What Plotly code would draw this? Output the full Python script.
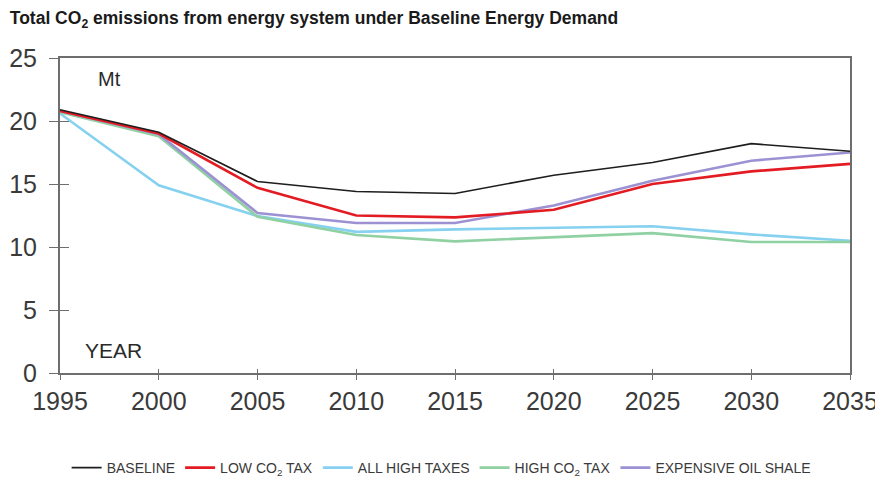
import plotly.graph_objects as go

years = [1995, 2000, 2005, 2010, 2015, 2020, 2025, 2030, 2035]
baseline = [20.9, 19.1, 15.2, 14.4, 14.25, 15.7, 16.7, 18.2, 17.6]
low_co2_tax = [20.8, 19.0, 14.7, 12.5, 12.35, 12.95, 15.0, 16.0, 16.6]
all_high_taxes = [20.6, 14.9, 12.45, 11.2, 11.4, 11.55, 11.65, 11.0, 10.5]
high_co2_tax = [20.7, 18.8, 12.4, 10.95, 10.45, 10.8, 11.1, 10.4, 10.4]
expensive_oil_shale = [20.8, 18.95, 12.7, 11.9, 11.9, 13.3, 15.25, 16.85, 17.5]

y_ticks = [0, 5, 10, 15, 20, 25]

series = [
    # name, values, colour, width, legend rank (draw order is list order)
    ("ALL HIGH TAXES", all_high_taxes, "#86d1ef", 2.6, 3),
    ("HIGH CO<sub>2</sub> TAX", high_co2_tax, "#8fd1a3", 2.6, 4),
    ("EXPENSIVE OIL SHALE", expensive_oil_shale, "#9c92d3", 2.6, 5),
    ("LOW CO<sub>2</sub> TAX", low_co2_tax, "#e31b23", 2.6, 2),
    ("BASELINE", baseline, "#1e1e1e", 1.6, 1),
]

fig = go.Figure()
for name, vals, col, w, rank in series:
    fig.add_trace(go.Scatter(
        x=years, y=vals, mode="lines", name=name,
        line=dict(color=col, width=w), legendrank=rank,
    ))

# dummy trace for the overlay axes carrying inside tick marks
fig.add_trace(go.Scatter(x=[years[0]], y=[0], xaxis="x2", yaxis="y2",
                         mode="markers", marker=dict(opacity=0),
                         showlegend=False, hoverinfo="skip"))

tick_font = dict(family="Liberation Sans, Arial, sans-serif", size=25, color="#3a3a3a")
axis_line = "#6e6e6e"

# page body has an 8px default margin, so the figure is sized to fit the window
fig.update_layout(
    width=875, height=471,
    paper_bgcolor="white", plot_bgcolor="white",
    margin=dict(l=52, r=33, t=50, b=106, autoexpand=False),
    title=dict(
        text="Total CO<sub>2</sub> emissions from energy system under Baseline Energy Demand",
        x=0.002, xanchor="left", y=0.992, yanchor="top",
        font=dict(family="Liberation Sans, Arial, sans-serif", size=17.5, color="#1a1a1a", weight="bold"),
    ),
    xaxis=dict(
        range=[1995, 2035], tickvals=years, ticktext=[str(y) for y in years],
        showgrid=False, zeroline=False, automargin=False,
        showline=True, linecolor=axis_line, linewidth=2, mirror=True,
        ticks="outside", ticklen=5, tickwidth=1, tickcolor=axis_line,
        tickfont=tick_font,
    ),
    yaxis=dict(
        range=[0, 25], tickvals=y_ticks,
        showgrid=False, zeroline=False, automargin=False,
        showline=True, linecolor=axis_line, linewidth=2, mirror=True,
        ticks="outside", ticklen=9, tickwidth=1, tickcolor=axis_line,
        tickfont=tick_font, ticklabelstandoff=7,
    ),
    xaxis2=dict(
        overlaying="x", range=[1995, 2035], tickvals=years, showticklabels=False,
        showgrid=False, zeroline=False, showline=False, automargin=False,
        ticks="inside", ticklen=4, tickwidth=1, tickcolor=axis_line, side="bottom",
    ),
    yaxis2=dict(
        overlaying="y", range=[0, 25], tickvals=y_ticks, showticklabels=False,
        showgrid=False, zeroline=False, showline=False, automargin=False,
        ticks="inside", ticklen=9, tickwidth=1, tickcolor=axis_line, side="left",
    ),
    legend=dict(
        orientation="h", xref="container", x=0.495, xanchor="center",
        yref="container", y=0.0234, yanchor="middle",
        font=dict(family="Liberation Sans Narrow, Liberation Sans, Arial, sans-serif", size=14, color="#3a3a3a"),
        itemwidth=30, traceorder="normal",
    ),
    annotations=[
        dict(text="Mt", x=1997.5, y=23.3, xref="x", yref="y", showarrow=False,
             xanchor="center", yanchor="middle",
             font=dict(family="Liberation Sans, Arial, sans-serif", size=20, color="#2a2a2a")),
        dict(text="YEAR", x=1996.15, y=1.8, xref="x", yref="y", showarrow=False,
             xanchor="left", yanchor="middle",
             font=dict(family="Liberation Sans, Arial, sans-serif", size=21, color="#2a2a2a")),
    ],
    showlegend=True,
)

fig.write_html("out.html")
